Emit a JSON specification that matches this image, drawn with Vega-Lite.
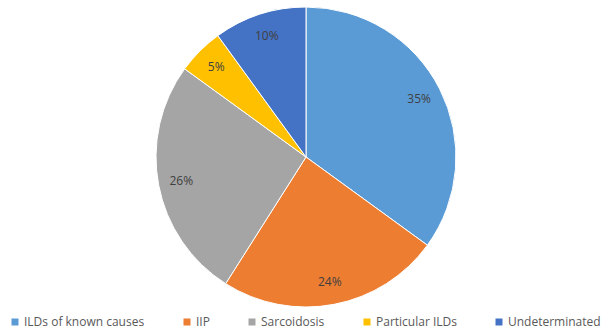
{
  "$schema": "https://vega.github.io/schema/vega-lite/v6.json",
  "autosize": {"type": "none"},
  "padding": {"left": 7, "top": 0, "right": 0, "bottom": 22},
  "width": 598,
  "height": 314,
  "background": "white",
  "data": {"values": [
    {"category": "ILDs of known causes", "value": 0.35, "order": 1},
    {"category": "IIP", "value": 0.24, "order": 2},
    {"category": "Sarcoidosis", "value": 0.26, "order": 3},
    {"category": "Particular ILDs", "value": 0.05, "order": 4},
    {"category": "Undeterminated", "value": 0.10, "order": 5}
  ]},
  "encoding": {
    "theta": {"field": "value", "type": "quantitative", "stack": true},
    "order": {"field": "order", "type": "quantitative"},
    "color": {
      "field": "category", "type": "nominal",
      "scale": {
        "domain": ["ILDs of known causes", "IIP", "Sarcoidosis", "Particular ILDs", "Undeterminated"],
        "range": ["#5B9BD5", "#ED7D31", "#A5A5A5", "#FFC000", "#4472C4"]
      },
      "legend": {
        "orient": "none",
        "direction": "horizontal",
        "legendX": 2,
        "legendY": 316,
        "title": null,
        "padding": 0,
        "symbolType": "square",
        "symbolSize": 49,
        "symbolStrokeWidth": 0,
        "labelFont": "Open Sans",
        "labelFontSize": 12,
        "labelColor": "#595959",
        "labelOffset": 3,
        "columnPadding": 36
      }
    }
  },
  "layer": [
    {"mark": {"type": "arc", "outerRadius": 150, "stroke": "white", "strokeWidth": 1}},
    {"mark": {"type": "text", "radius": 127, "font": "Open Sans", "fontSize": 12},
     "encoding": {"text": {"field": "value", "type": "quantitative", "format": ".0%"}, "color": {"value": "#404040"}}}
  ]
}
